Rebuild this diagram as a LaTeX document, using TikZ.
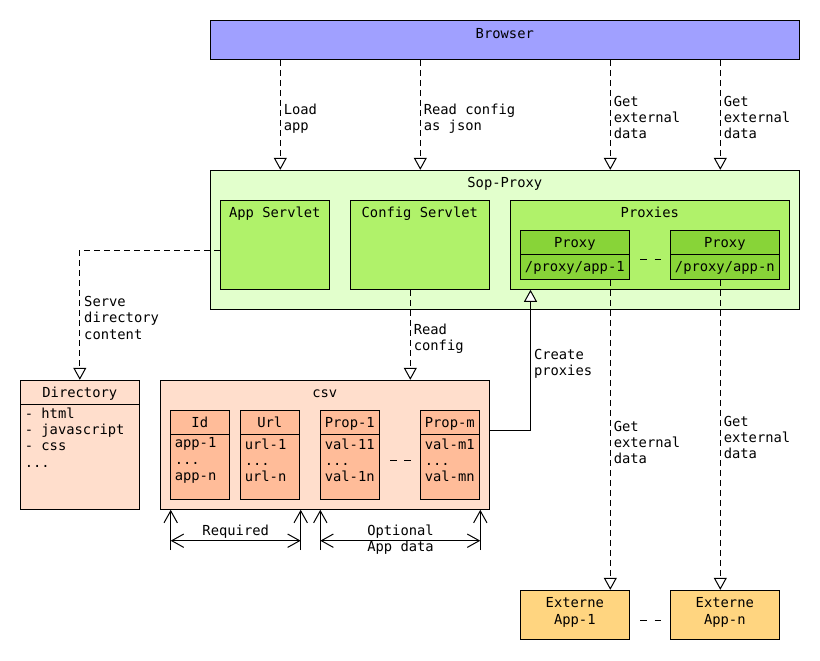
\documentclass[tikz,border=0pt]{standalone}
\usepackage{fontspec}
\setmainfont{DejaVu Sans Mono}
\usetikzlibrary{arrows.meta,fit}
\definecolor{browserblue}{RGB}{160,160,255}
\definecolor{sopgreen}{RGB}{226,255,204}
\definecolor{servgreen}{RGB}{176,242,106}
\definecolor{proxgreen}{RGB}{136,212,56}
\definecolor{peach}{RGB}{255,222,204}
\definecolor{colpeach}{RGB}{255,188,153}
\definecolor{extorange}{RGB}{255,213,128}
\begin{document}
\begin{tikzpicture}[x=0.75pt,y=-0.75pt,
  font=\fontsize{10.35}{12.2}\selectfont,
  line width=0.75pt,
  box/.style={draw=black, inner sep=0pt, line width=0.75pt},
  ttl/.style={inner sep=0pt, text height=7.5pt, text depth=0pt},
  lbl/.style={inner sep=0pt, align=left, anchor=west},
  ctr/.style={inner sep=0pt, align=center},
  dasharr/.style={dash pattern=on 4.5pt off 3pt, -{Triangle[length=9pt,width=9.75pt,fill=white]}},
  solarr/.style={-{Triangle[length=9pt,width=9.75pt,fill=white]}},
  sepdash/.style={dash pattern=on 5pt off 5.75pt},
  barb/.style={Straight Barb[length=9pt,width=10pt]}
]
\useasboundingbox (0,0) rectangle (820,660);

% ---- Browser
\node[box, fill=browserblue, fit={(210.3,20.3) (799.3,59.3)}] (browser) {};
\node[ttl] (browsert) at (504.8,33.3) {Browser};

% ---- Sop-Proxy
\node[box, fill=sopgreen, fit={(210.3,170.3) (799.3,309.3)}] (sop) {};
\node[ttl] (sopt) at (504.8,182.5) {Sop-Proxy};

\node[box, fill=servgreen, fit={(220.3,200.3) (329.3,289.3)}] (appsv) {};
\node[ttl] (appsvt) at (274.8,212.3) {App Servlet};
\node[box, fill=servgreen, fit={(350.3,200.3) (489.3,289.3)}] (cfgsv) {};
\node[ttl] (cfgsvt) at (419.8,212.3) {Config Servlet};
\node[box, fill=servgreen, fit={(510.3,200.3) (789.3,289.3)}] (proxies) {};
\node[ttl] (proxiest) at (649.8,212.3) {Proxies};

\node[box, fill=proxgreen, fit={(520.3,230.3) (629.3,254.3)}] (p1h) {};
\node[box, fill=proxgreen, fit={(520.3,254.3) (629.3,279.3)}] (p1b) {};
\node[ttl] (p1ht) at (574.8,242) {Proxy};
\node[ttl] (p1bt) at (574.8,266) {/proxy/app-1};
\node[box, fill=proxgreen, fit={(670.3,230.3) (779.3,254.3)}] (pnh) {};
\node[box, fill=proxgreen, fit={(670.3,254.3) (779.3,279.3)}] (pnb) {};
\node[ttl] (pnht) at (724.8,242) {Proxy};
\node[ttl] (pnbt) at (724.8,266) {/proxy/app-n};
\coordinate (ps1) at (640.3,259.5);
\coordinate (ps2) at (661,259.5);
\draw[sepdash] (ps1) -- (ps2);

% ---- Directory
\node[box, fill=peach, fit={(20.3,380.3) (139.3,509.3)}] (dir) {};
\node[box, fill=peach, fit={(20.3,380.3) (139.3,404.3)}] (dirh) {};
\node[ttl] (dirt) at (79.8,392.5) {Directory};
\node[lbl] (dirb) at (24.3,437.5) {- html\\- javascript\\- css\\...};

% ---- csv
\node[box, fill=peach, fit={(160.3,380.3) (489.3,509.3)}] (csv) {};
\node[ttl] (csvt) at (324.8,392.5) {csv};

\node[box, fill=colpeach, fit={(170.3,410.3) (229.3,434.3)}] (idh) {};
\node[box, fill=colpeach, fit={(170.3,434.3) (229.3,499.3)}] (idb) {};
\node[ttl] (idht) at (199.8,422) {Id};
\node[lbl] (idbt) at (174.3,460.5) {app-1\\...\\app-n};

\node[box, fill=colpeach, fit={(240.3,410.3) (299.3,434.3)}] (urlh) {};
\node[box, fill=colpeach, fit={(240.3,434.3) (299.3,499.3)}] (urlb) {};
\node[ttl] (urlht) at (269.8,422) {Url};
\node[lbl] (urlbt) at (244.3,460.5) {url-1\\...\\url-n};

\node[box, fill=colpeach, fit={(320.3,410.3) (379.3,434.3)}] (p1colh) {};
\node[box, fill=colpeach, fit={(320.3,434.3) (379.3,499.3)}] (p1colb) {};
\node[ttl] (p1colht) at (349.8,422) {Prop-1};
\node[lbl] (p1colbt) at (324.3,460.5) {val-11\\...\\val-1n};

\node[box, fill=colpeach, fit={(420.3,410.3) (479.3,434.3)}] (pmcolh) {};
\node[box, fill=colpeach, fit={(420.3,434.3) (479.3,499.3)}] (pmcolb) {};
\node[ttl] (pmcolht) at (449.8,422) {Prop-m};
\node[lbl] (pmcolbt) at (424.3,460.5) {val-m1\\...\\val-mn};

\coordinate (cs1) at (390,460);
\coordinate (cs2) at (411,460);
\draw[sepdash] (cs1) -- (cs2);

% ---- Externe apps
\node[box, fill=extorange, fit={(520.3,590.3) (629.3,639.3)}] (ext1) {};
\node[ctr] (ext1t) at (574.8,612.5) {Externe\\App-1};
\node[box, fill=extorange, fit={(670.3,590.3) (779.3,639.3)}] (extn) {};
\node[ctr] (extnt) at (724.8,612.5) {Externe\\App-n};
\coordinate (es1) at (640.3,620.7);
\coordinate (es2) at (661,620.7);
\draw[sepdash] (es1) -- (es2);

% ---- x / y helper coordinates
\coordinate (x280) at (280.3,0);
\coordinate (x420) at (420.3,0);
\coordinate (x610) at (610.3,0);
\coordinate (x720) at (720.3,0);
\coordinate (x410) at (410.3,0);
\coordinate (x530) at (530.5,0);
\coordinate (y250) at (0,250.3);
\coordinate (y430) at (0,430.3);

% ---- Browser -> Sop-Proxy
\draw[dasharr] (browser.south -| x280) -- (sop.north -| x280);
\node[lbl] (l1) at (283.3,119) {Load\\app};
\draw[dasharr] (browser.south -| x420) -- (sop.north -| x420);
\node[lbl] (l2) at (423.3,119) {Read config\\as json};
\draw[dasharr] (browser.south -| x610) -- (sop.north -| x610);
\node[lbl] (l3) at (613.3,117.5) {Get\\external\\data};
\draw[dasharr] (browser.south -| x720) -- (sop.north -| x720);
\node[lbl] (l4) at (723.3,117.5) {Get\\external\\data};

% ---- App Servlet -> Directory
\draw[dasharr] (appsv.west |- y250) -| (dir.north);
\node[lbl] (l5) at (83.7,317.8) {Serve\\directory\\content};

% ---- Config Servlet -> csv
\draw[dasharr] (cfgsv.south -| x410) -- (csv.north -| x410);
\node[lbl] (l6) at (413.3,339) {Read\\config};

% ---- csv -> Proxies
\draw[solarr] (csv.east |- y430) -| (proxies.south -| x530);
\node[lbl] (l7) at (533.5,364) {Create\\proxies};

% ---- Proxies -> Externe apps
\draw[dasharr] (p1b.south -| x610) -- (ext1.north -| x610);
\node[lbl] (l8) at (613.3,442.3) {Get\\external\\data};
\draw[dasharr] (pnb.south -| x720) -- (extn.north -| x720);
\node[lbl] (l9) at (723.3,437.7) {Get\\external\\data};

% ---- dimension lines
\coordinate (d1) at (170.7,550);
\coordinate (d2) at (300.7,550);
\coordinate (d3) at (320.3,550);
\coordinate (d4) at (480.3,550);
\coordinate (y541) at (0,540.7);
\draw[-{Straight Barb[length=9pt,width=10pt]}] (d1) -- (d1 |- csv.south);
\draw[-{Straight Barb[length=9pt,width=10pt]}] (d2) -- (d2 |- csv.south);
\draw[-{Straight Barb[length=9pt,width=10pt]}] (d3) -- (d3 |- csv.south);
\draw[-{Straight Barb[length=9pt,width=10pt]}] (d4) -- (d4 |- csv.south);
\draw[{Straight Barb[length=9pt,width=10pt]}-{Straight Barb[length=9pt,width=10pt]}] (d1 |- y541) -- (d2 |- y541);
\draw[{Straight Barb[length=9pt,width=10pt]}-{Straight Barb[length=9pt,width=10pt]}] (d3 |- y541) -- (d4 |- y541);
\node[ttl] (req) at (235.7,530.5) {Required};
\node[ctr] (opt) at (400.5,540) {Optional\\App data};
\end{tikzpicture}
\end{document}
